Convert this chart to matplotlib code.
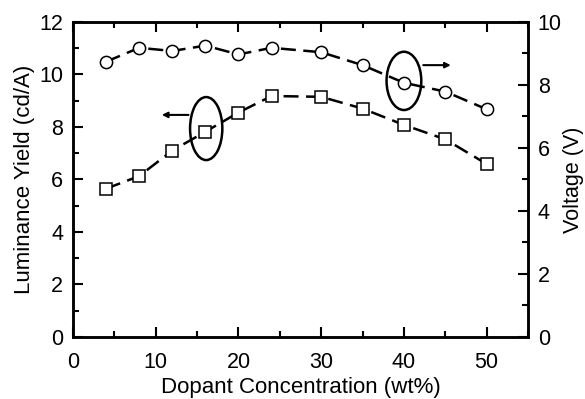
import matplotlib
matplotlib.use("Agg")
import matplotlib.pyplot as plt
from matplotlib.patches import Ellipse
from matplotlib.ticker import MultipleLocator

plt.rcParams['font.family'] = ['Liberation Sans', 'DejaVu Sans']

# data
conc = [4, 8, 12, 16, 20, 24, 30, 35, 40, 45, 50]
yield_cd = [5.65, 6.13, 7.1, 7.82, 8.55, 9.18, 9.15, 8.7, 8.08, 7.53, 6.59]
voltage = [8.74, 9.18, 9.08, 9.25, 8.97, 9.18, 9.04, 8.63, 8.07, 7.79, 7.23]

fig = plt.figure(figsize=(5.85, 3.99), dpi=100)
ax = fig.add_axes([0.1248, 0.1554, 0.7778, 0.7895])
ax2 = ax.twinx()

line_kw = dict(color='black', lw=1.8, dashes=(6, 3))
ax.plot(conc, yield_cd, marker='s', ms=8.3, mfc='white', mec='black', mew=1.1, **line_kw)
ax2.plot(conc, voltage, marker='o', ms=8.8, mfc='white', mec='black', mew=1.1, **line_kw)

ax.set_xlim(0, 55)
ax.set_ylim(0, 12)
ax2.set_ylim(0, 10)

ax.xaxis.set_major_locator(MultipleLocator(10))
ax.xaxis.set_minor_locator(MultipleLocator(5))
ax.yaxis.set_major_locator(MultipleLocator(2))
ax.yaxis.set_minor_locator(MultipleLocator(1))
ax2.yaxis.set_major_locator(MultipleLocator(2))
ax2.yaxis.set_minor_locator(MultipleLocator(1))

ax.tick_params(which='both', direction='in', top=True, width=1.5, labelsize=15.5, pad=7)
ax.tick_params(axis='x', which='both', pad=11)
ax.tick_params(which='major', length=7)
ax.tick_params(which='minor', length=4)
ax2.tick_params(which='both', direction='in', width=1.5, labelsize=15.5, pad=7)
ax2.tick_params(which='major', length=7)
ax2.tick_params(which='minor', length=4)

for a in (ax, ax2):
    for s in a.spines.values():
        s.set_linewidth(1.8)

ax.set_xlabel('Dopant Concentration (wt%)', fontsize=16, labelpad=3)
ax.set_ylabel('Luminance Yield (cd/A)', fontsize=16, labelpad=3)
ax2.set_ylabel('Voltage (V)', fontsize=15.5, labelpad=1)

# ellipses with arrows pointing to their axes
ax.add_patch(Ellipse((16.1, 7.94), 3.9, 2.4, fill=False, ec='black', lw=1.8))
ax.annotate('', xy=(10.4, 8.46), xytext=(14.3, 8.46),
            arrowprops=dict(arrowstyle='-|>', color='black', lw=1.5, mutation_scale=8))
ax2.add_patch(Ellipse((40.0, 8.13), 4.2, 1.85, fill=False, ec='black', lw=1.8))
ax2.annotate('', xy=(46.0, 8.63), xytext=(42.0, 8.63),
             arrowprops=dict(arrowstyle='-|>', color='black', lw=1.5, mutation_scale=8))

fig.savefig('out.png', dpi=100)
